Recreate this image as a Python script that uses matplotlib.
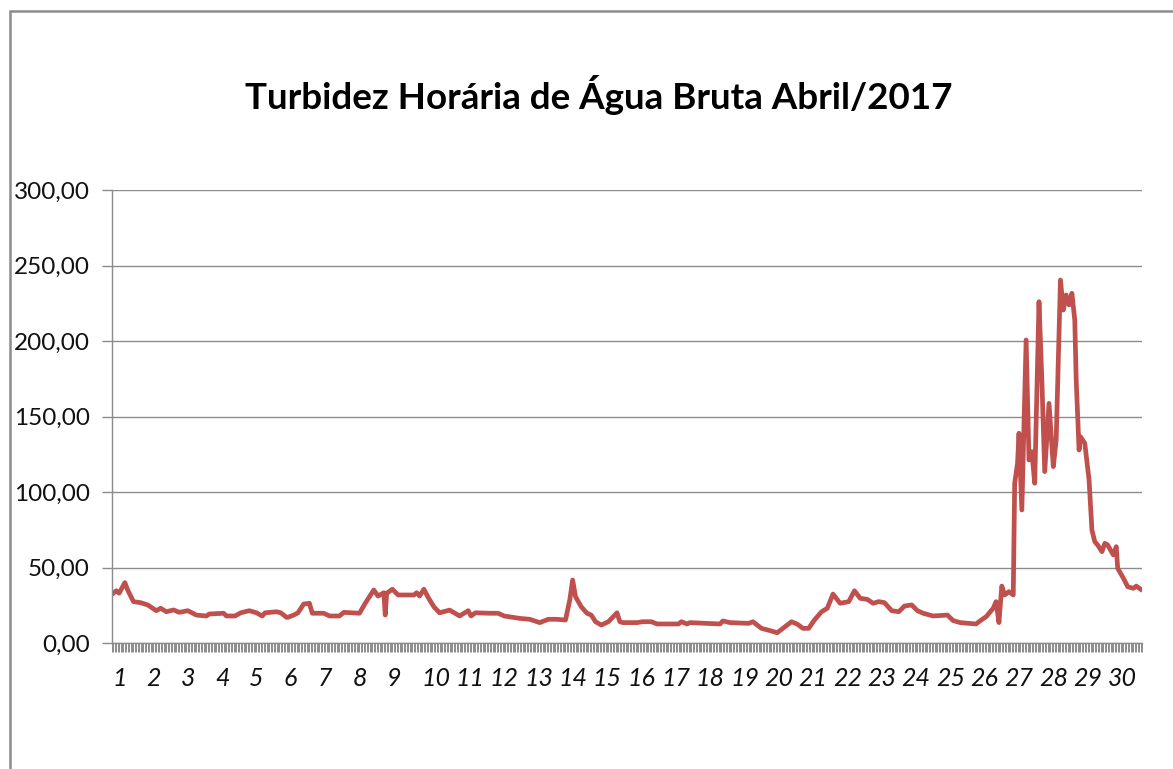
import matplotlib
matplotlib.use("Agg")
import matplotlib.pyplot as plt
from matplotlib.ticker import FixedLocator, FuncFormatter
from matplotlib.patches import Rectangle

# hora do mes (0 = 01/04 00h) e turbidez (NTU)
horas = [1, 3, 5, 9, 11, 15, 20, 25, 31, 34, 38, 43, 47, 53, 59, 66, 68, 78, 80, 86,
         90, 96, 101, 105, 107, 115, 118, 122, 123, 127, 130, 134, 138, 140, 148, 152,
         159, 162, 173, 177, 183, 186, 190, 191, 192, 196, 200, 211, 213, 215, 218, 221,
         225, 229, 236, 243, 244, 249, 251, 254, 264, 270, 274, 285, 292, 299, 305, 311,
         317, 320, 322, 324, 328, 332, 335, 338, 342, 347, 353, 355, 357, 367, 371, 377,
         381, 396, 398, 402, 404, 425, 427, 432, 445, 448, 454, 460, 465, 469, 475, 479,
         483, 487, 491, 496, 500, 504, 509, 515, 519, 523, 528, 532, 536, 540, 545, 550,
         554, 559, 563, 567, 574, 584, 588, 593, 604, 607, 611, 616, 618, 620, 622, 624,
         627, 630, 631, 633, 634, 636, 639, 641, 643, 645, 648, 650, 652, 655, 658, 660,
         663, 665, 667, 669, 671, 673, 674, 676, 677, 680, 683, 685, 687, 689, 692, 694,
         696, 700, 702, 703, 707, 710, 714, 716, 719]
turbidez = [33, 34.6, 33, 40, 35, 27.4, 26.7, 25.2, 21.4, 23, 20.7, 21.9, 20.3, 21.4, 18.5,
            17.9, 19.2, 19.7, 17.9, 17.9, 20, 21.4, 20, 17.9, 20, 20.7, 20, 17, 17, 18.5,
            20, 25.8, 26.3, 19.7, 19.7, 17.9, 17.9, 20.3, 19.7, 26.3, 35.1, 31.1, 33.3,
            18.5, 32.9, 35.6, 31.8, 31.8, 33.3, 31.1, 35.6, 30.2, 24, 20, 21.8, 17.9, 18.5,
            21.4, 17.9, 20, 19.7, 19.7, 17.9, 16.3, 15.7, 13.5, 15.7, 15.7, 15.2, 28.5,
            41.7, 30.7, 24, 19.7, 18.5, 14.1, 11.9, 14.1, 20, 14.1, 13.5, 13.5, 14.1, 14.1,
            12.6, 12.6, 14.1, 12.6, 13.5, 12.6, 14.6, 13.5, 13, 14.1, 9.7, 8.2, 6.8, 9.7,
            14.1, 12.5, 9.7, 9.7, 15.2, 20.7, 23, 32.4, 26.3, 27.4, 34.6, 29.6, 28.9, 26.3,
            27.4, 26.7, 21.4, 20.7, 24.5, 25.2, 21.4, 19.7, 17.9, 18.5, 14.8, 13.5, 12.6,
            14.8, 17.4, 23, 27.4, 13.5, 37.7, 31.8, 34, 31.8, 105.8, 119, 138.9, 88.1,
            200.7, 121.2, 126.7, 105.8, 226, 174.2, 113.5, 158.7, 116.8, 134.4, 240.4,
            220.5, 230.5, 223.9, 231.6, 213.9, 174.2, 127.8, 136.6, 132.3, 108, 74.8, 67.1,
            64.9, 60.5, 66, 64.9, 58.3, 63.8, 49.5, 42.9, 37.3, 36.2, 37.7, 35.6]
dias = list(range(1, 31))
titulo = "Turbidez Horária de Água Bruta Abril/2017"

plt.rcParams['font.family'] = ['Lato', 'DejaVu Sans']

W, H = 1173, 769
fig = plt.figure(figsize=(W / 100, H / 100), dpi=100)

# moldura da area do grafico (cortada a direita e embaixo)
fig.patches.append(Rectangle((10 / W, -0.1), 1.2, 1.1 - 11 / H, transform=fig.transFigure,
                             fill=False, edgecolor='#8c8c8c', linewidth=1.8))

ax = fig.add_axes([112 / W, 1 - 643 / H, 1030 / W, 453 / H])
ax.plot(horas, turbidez, color='#C0504D', linewidth=3.4, solid_joinstyle='round')

ax.set_xlim(0, 720)
ax.set_ylim(0, 300)
ax.set_yticks(range(0, 301, 50))
ax.yaxis.set_major_formatter(FuncFormatter(lambda v, p: f"{v:.2f}".replace('.', ',')))
ax.grid(axis='y', color='#8c8c8c', linewidth=1)
ax.set_axisbelow(True)

ax.xaxis.set_major_locator(FixedLocator([24 * (d - 1) for d in dias]))
ax.set_xticklabels([str(d) for d in dias], ha='left', style='italic')
ax.xaxis.set_minor_locator(FixedLocator(range(0, 721)))

for s in ['top', 'right']:
    ax.spines[s].set_visible(False)
for s in ['left', 'bottom']:
    ax.spines[s].set_color('#8c8c8c')
    ax.spines[s].set_linewidth(1)

ax.tick_params(axis='y', length=7, width=1, color='#8c8c8c', labelsize=17.5, pad=9,
               labelcolor='#111111')
ax.tick_params(axis='x', which='both', length=6.5, width=0.7, color='#8c8c8c')
ax.tick_params(axis='x', which='major', labelsize=18, pad=11, labelcolor='#111111')

fig.text(599 / W, 1 - 95 / H, titulo, ha='center', va='center', fontsize=26.5,
         fontweight='bold', color='black')

fig.savefig('out.png', dpi=100)
